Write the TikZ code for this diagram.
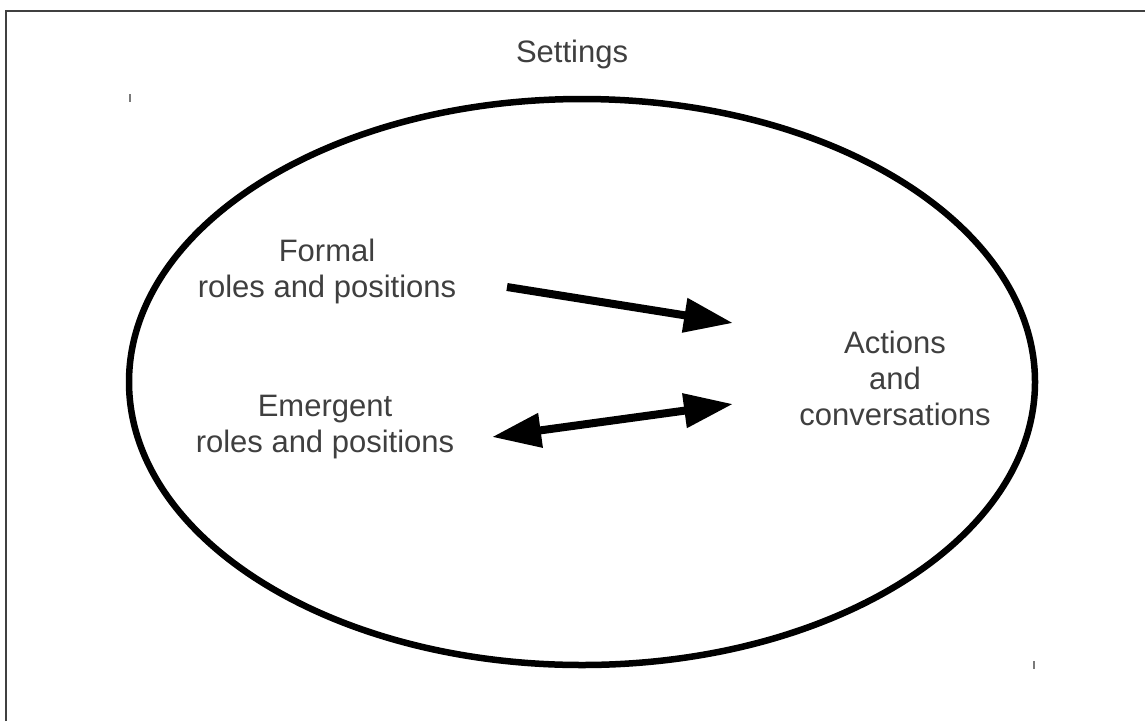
\documentclass[tikz,border=0pt]{standalone}
\usepackage{fontspec}
\setmainfont{Liberation Sans}
\usetikzlibrary{arrows.meta}
\definecolor{txtgray}{HTML}{3F3F3F}
\definecolor{framegray}{HTML}{404040}
\definecolor{tickgray}{HTML}{7A7A7A}
\tikzset{
  lbl/.style={text=txtgray, font=\fontsize{31}{36}\selectfont, align=center, inner sep=0pt},
  bigarrow/.style={line width=8pt, -{Triangle[length=49pt,width=33pt]}},
  dblarrow/.style={line width=8pt, {Triangle[length=49pt,width=33pt]}-{Triangle[length=49pt,width=33pt]}},
}
\begin{document}
\begin{tikzpicture}[x=1pt,y=-1pt]
\useasboundingbox (0,0) rectangle (1145,721);
% frame (left and top edges)
\draw[framegray, line width=2pt] (6,721) -- (6,10.5) -- (1145,10.5);
% small ticks
\draw[tickgray, line width=1.5pt] (130,94) -- (130,102);
\draw[tickgray, line width=1.5pt] (1034,661) -- (1034,669);
% ellipse
\draw[line width=6.5pt] (582,382) ellipse [x radius=453pt, y radius=283pt];
% labels (anchor=base is the baseline of the last line)
\node[lbl, anchor=base] (settings) at (572,62) {Settings};
\node[lbl, anchor=base] (formal) at (327,297) {Formal\\roles and positions};
\node[lbl, anchor=base] (emergent) at (325,452) {Emergent\\roles and positions};
\node[lbl, anchor=base] (actions) at (895,425) {Actions\\and\\conversations};
% arrow endpoints
\coordinate (f1) at (507,287);
\coordinate (a1) at (733,323);
\coordinate (e2) at (492,437);
\coordinate (a2) at (733,404);
\draw[bigarrow] (f1) -- (a1);
\draw[dblarrow] (e2) -- (a2);
\end{tikzpicture}
\end{document}
